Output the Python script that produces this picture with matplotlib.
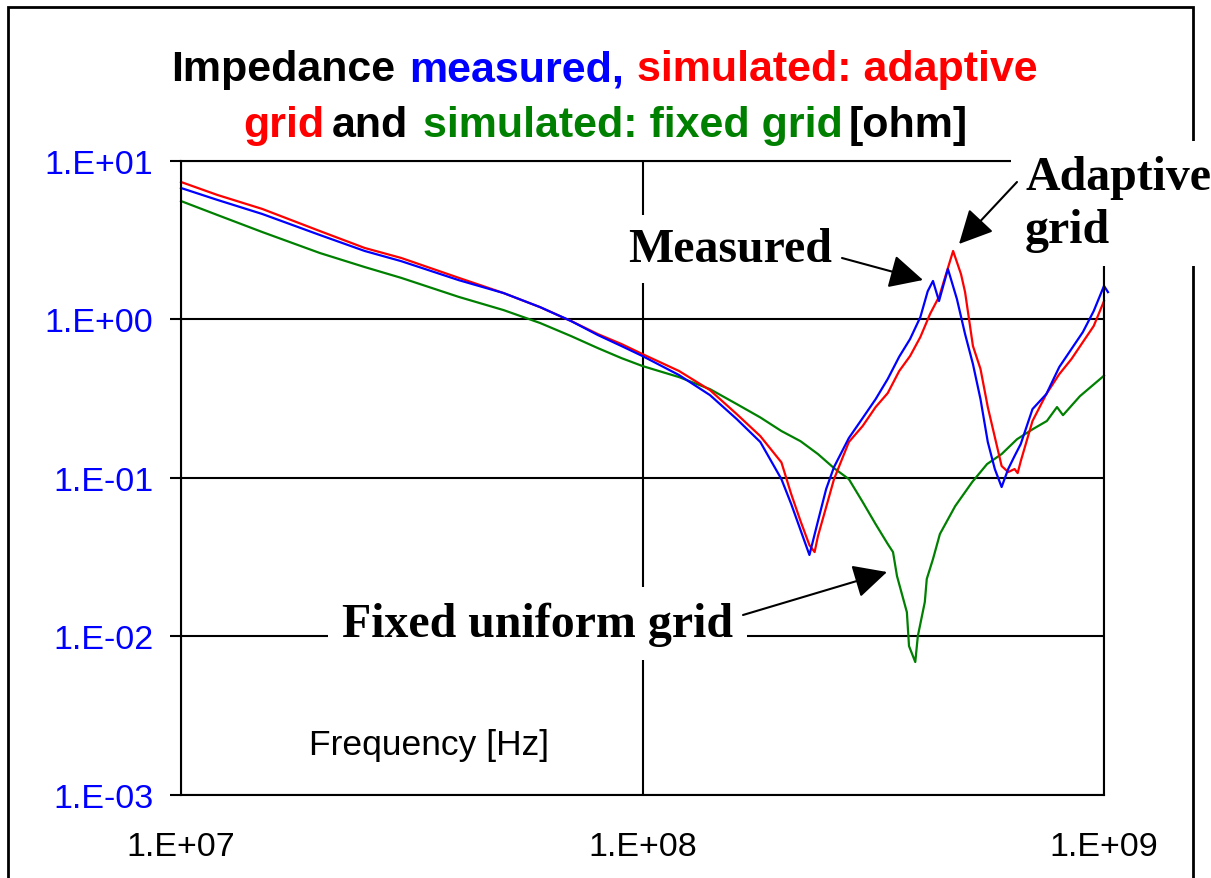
import matplotlib.pyplot as plt
from matplotlib.patches import Rectangle
from matplotlib.ticker import FixedLocator, NullLocator

# frequencies in MHz, impedance in ohm
freq_measured = [10, 12, 15, 20, 25, 30, 40, 50, 60, 70, 80, 90, 100, 120, 140, 160, 180,
                 200, 210, 220, 230, 240, 250, 260, 280, 300, 320, 340, 360, 380, 400, 415,
                 426, 439, 459, 480, 500, 520, 540, 560, 580, 600, 620, 640, 660, 700, 750,
                 800, 850, 900, 950, 1000, 1020]
z_measured = [6.71, 5.64, 4.60, 3.39, 2.69, 2.32, 1.76, 1.46, 1.19, 0.973, 0.794, 0.677, 0.585,
              0.444, 0.332, 0.2345, 0.168, 0.098, 0.0683, 0.0468, 0.0326, 0.0533, 0.0849,
              0.1168, 0.178, 0.238, 0.313, 0.42, 0.58, 0.749, 1.03, 1.50, 1.74, 1.30, 2.07,
              1.34, 0.805, 0.521, 0.313, 0.168, 0.1135, 0.0874, 0.1135, 0.137, 0.163, 0.271,
              0.337, 0.499, 0.648, 0.829, 1.125, 1.62, 1.48]

freq_adaptive = [10, 12, 15, 20, 25, 30, 40, 50, 60, 70, 80, 90, 100, 120, 140, 160, 180, 200,
                 210, 220, 230, 236, 240, 250, 260, 280, 300, 320, 340, 360, 380, 400, 420,
                 440, 450, 471, 490, 500, 520, 540, 560, 580, 600, 620, 640, 650, 660, 700,
                 750, 800, 850, 900, 950, 1000]
z_adaptive = [7.32, 6.06, 4.95, 3.59, 2.81, 2.43, 1.82, 1.46, 1.19, 0.973, 0.805, 0.697, 0.602,
              0.471, 0.357, 0.252, 0.183, 0.125, 0.0789, 0.0533, 0.0376, 0.0340, 0.0429,
              0.0653, 0.098, 0.168, 0.212, 0.279, 0.342, 0.471, 0.585, 0.771, 1.08, 1.40,
              1.74, 2.69, 1.92, 1.48, 0.677, 0.485, 0.279, 0.1805, 0.1186, 0.1086, 0.1135,
              0.107, 0.127, 0.228, 0.337, 0.450, 0.560, 0.717, 0.905, 1.30]

freq_fixed = [10, 12, 15, 20, 25, 30, 40, 50, 60, 70, 80, 90, 100, 120, 140, 160, 180, 200,
              220, 240, 260, 280, 300, 320, 340, 349, 356, 374, 378, 390, 395, 409, 413, 426,
              441, 476, 518, 558, 600, 648, 702, 752, 791, 815, 887, 1000]
z_fixed = [5.55, 4.53, 3.54, 2.61, 2.13, 1.82, 1.38, 1.14, 0.945, 0.782, 0.657, 0.568, 0.506,
           0.431, 0.362, 0.2915, 0.24, 0.197, 0.170, 0.141, 0.115, 0.098, 0.0703, 0.0510,
           0.0382, 0.034, 0.024, 0.0142, 0.00869, 0.00689, 0.01004, 0.01646, 0.0230, 0.0307,
           0.0442, 0.0663, 0.0939, 0.122, 0.141, 0.175, 0.203, 0.228, 0.279, 0.248, 0.327, 0.44]

x_ticks = [1e7, 1e8, 1e9]
x_labels = ["1.E+07", "1.E+08", "1.E+09"]
y_ticks = [1e-3, 1e-2, 1e-1, 1e0, 1e1]
y_labels = ["1.E-03", "1.E-02", "1.E-01", "1.E+00", "1.E+01"]

W, H = 1211, 879
sans = "Liberation Sans"
serif = "Liberation Serif"


def fp(x, y):
    # image pixel (top-left origin) -> figure fraction
    return (x / W, 1 - y / H)


fig = plt.figure(figsize=(W / 100, H / 100), dpi=100)
ax = fig.add_axes([181 / W, 83 / H, 923 / W, 634.5 / H])
ax.set_xscale("log")
ax.set_yscale("log")

ax.plot([f * 1e6 for f in freq_fixed], z_fixed, color="#008000", lw=1.6, clip_on=False)
ax.plot([f * 1e6 for f in freq_adaptive], z_adaptive, color="#FF0000", lw=1.6, clip_on=False)
ax.plot([f * 1e6 for f in freq_measured], z_measured, color="#0000FF", lw=1.6, clip_on=False)

ax.set_xlim(1e7, 1e9)
ax.set_ylim(1e-3, 1e1)
ax.xaxis.set_major_locator(FixedLocator(x_ticks))
ax.xaxis.set_minor_locator(NullLocator())
ax.yaxis.set_major_locator(FixedLocator(y_ticks))
ax.yaxis.set_minor_locator(NullLocator())
ax.set_xticklabels(x_labels, fontfamily=sans, fontsize=24.5)
ax.set_yticklabels(y_labels, fontfamily=sans, fontsize=24.5, color="#0000FF")
ax.tick_params(axis="x", length=0, pad=26)
ax.tick_params(axis="y", length=8, width=1.5, direction="out", pad=12)
ax.grid(True, color="black", lw=1.5)
for s in ax.spines.values():
    s.set_linewidth(1.5)
    s.set_color("black")

# outer chart border
fig.add_artist(Rectangle((8 / W, -0.1), (1193 - 8) / W, 1.1 - 8 / H, transform=fig.transFigure,
                         fill=False, lw=2, ec="black", zorder=-1))

# multi-coloured title
title_rows = [
    (81, [(171, "Impedance", "black"), (409, "measured,", "#0000FF"),
          (637, "simulated: adaptive", "#FF0000")]),
    (137, [(243, "grid", "#FF0000"), (332, "and", "black"),
           (423, "simulated: fixed grid", "#008000"), (849, "[ohm]", "black")]),
]
for yb, pieces in title_rows:
    for xl, txt, col in pieces:
        fig.text(*fp(xl, yb), txt, color=col, fontsize=31, fontweight="bold",
                 fontfamily=sans, ha="left", va="baseline")

fig.text(*fp(309, 755), "Frequency [Hz]", fontsize=25.5, fontfamily=sans, ha="left", va="baseline")

# labels with arrows
lab = dict(fontsize=34.5, fontweight="bold", fontfamily=serif, xycoords="figure fraction",
           ha="left", va="baseline", zorder=10, annotation_clip=False)
ax.annotate("Measured", xy=fp(628, 262), bbox=dict(fc="white", ec="none", boxstyle="square,pad=0.25"), **lab)
ax.annotate("Adaptive\ngrid", xy=fp(1025, 243), linespacing=1.25,
            bbox=dict(fc="white", ec="none", boxstyle="square,pad=0.3"), **lab)
ax.annotate("Fixed uniform grid", xy=fp(342, 637),
            bbox=dict(fc="white", ec="none", boxstyle="square,pad=0.3"), **lab)

arr = dict(arrowstyle="-|>,head_length=0.8,head_width=0.4", color="black", lw=1.5,
           mutation_scale=26, shrinkA=0, shrinkB=0)
for start, tip in [((842, 259), (923, 281)), ((1017, 183), (959, 245)), ((743, 616), (887, 573))]:
    ax.annotate("", xy=fp(*tip), xytext=fp(*start), xycoords="figure fraction",
                textcoords="figure fraction", arrowprops=arr, zorder=11, annotation_clip=False)

fig.savefig("out.png", dpi=100)
